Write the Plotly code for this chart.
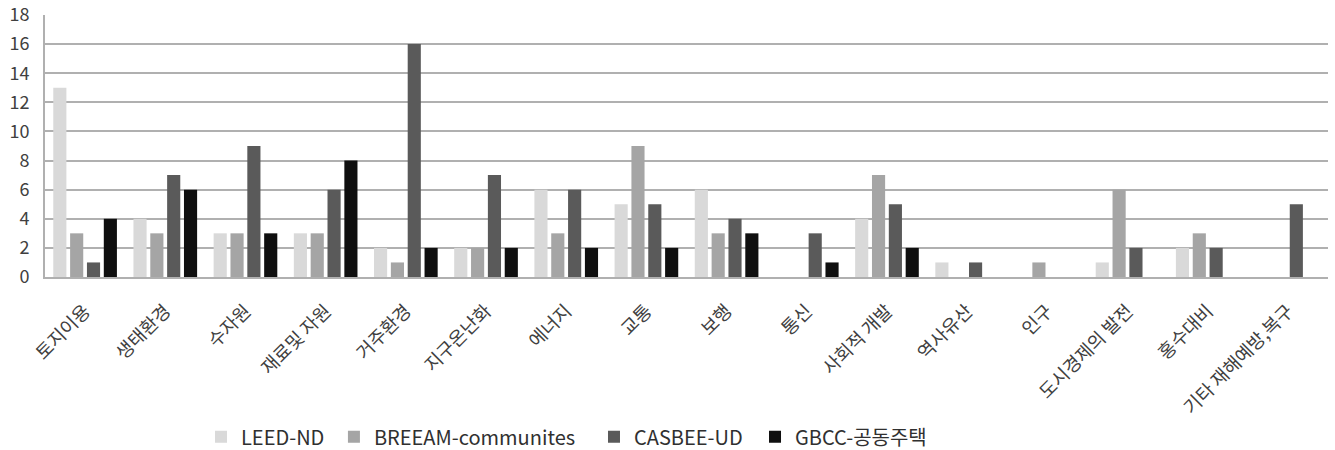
import plotly.graph_objects as go

categories = ["토지이용", "생태환경", "수자원", "재료및 자원", "거주환경", "지구온난화", "에너지", "교통",
              "보행", "통신", "사회적 개발", "역사유산", "인구", "도시경제의 발전", "홍수대비", "기타 재해예방,복구"]
leed = [13, 4, 3, 3, 2, 2, 6, 5, 6, 0, 4, 1, 0, 1, 2, 0]
breeam = [3, 3, 3, 3, 1, 2, 3, 9, 3, 0, 7, 0, 1, 6, 3, 0]
casbee = [1, 7, 9, 6, 16, 7, 6, 5, 4, 3, 5, 1, 0, 2, 2, 5]
gbcc = [4, 6, 3, 8, 2, 2, 2, 2, 3, 1, 2, 0, 0, 0, 0, 0]

series_names = ["LEED-ND", "BREEAM-communites", "CASBEE-UD", "GBCC-공동주택"]
series_values = [leed, breeam, casbee, gbcc]
series_colors = ["#d9d9d9", "#a5a5a5", "#5a5a5a", "#0f0f0f"]
legend_ids = ["legend", "legend2", "legend3", "legend4"]
legend_x = [0.1216, 0.2252, 0.4279, 0.5534]

font_family = "Noto Sans CJK KR, Noto Sans, sans-serif"

fig = go.Figure()
for name, vals, color, lid in zip(series_names, series_values, series_colors, legend_ids):
    fig.add_trace(go.Bar(
        x=categories, y=vals, name=name, legend=lid,
        marker=dict(color=color, line=dict(width=0)),
    ))

layout_legends = {}
for lid, lx in zip(legend_ids, legend_x):
    layout_legends[lid] = dict(orientation="h", x=lx, xanchor="left", y=-0.61, yanchor="middle",
                               font=dict(size=20, color="#303030"), itemwidth=30,
                               bgcolor="rgba(0,0,0,0)", borderwidth=0)

fig.update_layout(
    width=1335, height=450,
    margin=dict(l=45, r=7, t=15, b=173, autoexpand=False),
    paper_bgcolor="white", plot_bgcolor="white",
    barmode="group", bargap=0.16, bargroupgap=0.22,
    font=dict(family=font_family, color="#404040"),
    showlegend=True,
    **layout_legends,
)
fig.update_yaxes(range=[0, 18], dtick=2, showgrid=True, gridcolor="#b0b0b0", gridwidth=2,
                 showline=True, linecolor="#b0b0b0", linewidth=2, ticks="",
                 ticklabelstandoff=10,
                 tickfont=dict(size=18, color="#404040"), zeroline=False)
fig.update_xaxes(tickangle=-45, tickfont=dict(size=18.5, color="#404040"), showline=True,
                 linecolor="#b0b0b0", linewidth=2, ticks="", ticklabelstandoff=14)

fig.write_html("out.html")
